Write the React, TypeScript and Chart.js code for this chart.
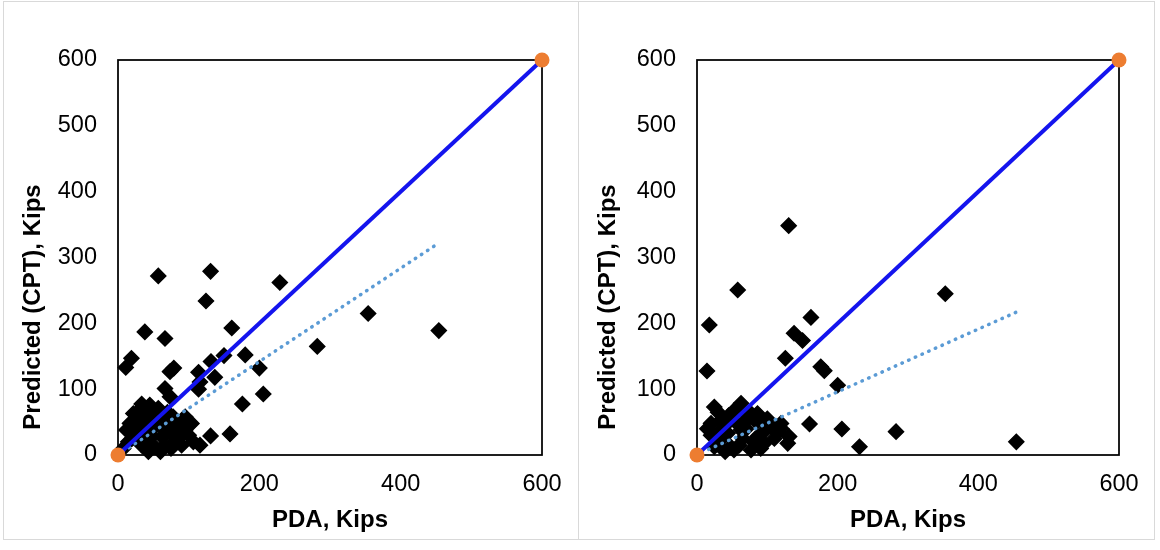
import React, { useEffect, useRef } from "react";
import { Chart, registerables } from "chart.js";

Chart.register(...registerables);

// ---------- Data ----------
const xTicks = [0, 200, 400, 600];
const yTicks = [0, 100, 200, 300, 400, 500, 600];
const xAxisTitle = "PDA, Kips";
const yAxisTitle = "Predicted (CPT), Kips";

// Left panel
const leftPDA = [
  57, 131, 229, 124.5, 161, 38, 66.5, 354, 454, 282, 19, 11, 150, 180, 131.6, 79, 73.6, 114, 137, 200,
  116, 114, 66.5, 73.6, 205.6, 176, 33.5, 158.5, 131, 106.6, 116,
  21.7, 17, 12, 45, 57, 95, 104, 78, 92, 52, 43, 33.5, 66.5, 80.6, 24, 14.6, 7.5, 38, 52, 66.5, 80.6,
  47.6, 62, 28.8, 43, 88,
  30, 35, 40, 55, 60, 70, 75, 85, 90, 100, 100, 70, 50, 25, 20, 60, 75, 95, 45, 30,
];
const leftCPT = [
  272, 279, 262, 234, 193, 187, 177, 215, 189, 165, 147, 133, 151, 152, 142, 132, 126.6, 125.6, 118, 132,
  111, 100, 101, 88.6, 92.7, 77.5, 77.5, 32, 29, 20, 15,
  63, 48, 38, 76, 71, 58, 48, 58, 33, 12.6, 5, 15, 15, 17.7, 33, 20, 10, 48, 43, 38, 43,
  28, 28, 58, 63, 46,
  40, 30, 20, 50, 60, 50, 30, 25, 15, 30, 45, 65, 55, 50, 25, 5, 10, 38, 40, 68,
];
const leftTrendX = [7, 454];
const leftTrendY = [5, 322];

// Right panel
const rightPDA = [
  130.4, 57.9, 353, 17.5, 162, 138, 150, 125.6, 14.2, 176, 181, 200, 160, 206, 231, 283, 454,
  24.6, 62.6, 53, 20, 34, 91, 105, 119.4, 131, 129, 114.7, 76.8, 48, 24.6, 72, 86, 43.6, 62.6, 34,
  95.7, 86, 90.6, 52.6, 14.7, 66,
  30, 40, 45, 55, 65, 70, 80, 95, 100, 110, 75, 60, 40, 85, 30, 100, 120, 20,
];
const rightCPT = [
  348.4, 250.6, 245, 197.5, 209, 185, 174, 147, 127.6, 134, 128, 106, 47, 39.5, 12.6, 35.5, 20,
  73, 78.5, 68, 48, 53, 53, 43, 48, 28, 17.7, 35, 7.6, 12.6, 12.6, 58, 28, 33, 38, 23,
  17.7, 63, 10, 7.6, 40, 48,
  35, 45, 60, 50, 25, 40, 20, 35, 45, 25, 65, 15, 5, 50, 65, 55, 40, 30,
];
const rightTrendX = [7, 454];
const rightTrendY = [4, 217];

// 1:1 reference line and its end markers
const refX = [0, 600];
const refY = [0, 600];

// ---------- Helpers ----------
const toPts = (xs: number[], ys: number[]) => xs.map((x, i) => ({ x, y: ys[i] }));

const FONT = "'Liberation Sans', Arial, Helvetica, sans-serif";

const framePlugin = {
  id: "frame",
  beforeDatasetsDraw(chart: any) {
    const { ctx, chartArea } = chart;
    ctx.save();
    ctx.strokeStyle = "#000";
    ctx.lineWidth = 1.75;
    ctx.strokeRect(chartArea.left, chartArea.top, chartArea.right - chartArea.left, chartArea.bottom - chartArea.top);
    ctx.restore();
  },
};

// Vertical axis title, placed where the reference puts it (below the axis centre)
const yTitlePlugin = {
  id: "yTitle",
  afterDraw(chart: any) {
    const { ctx } = chart;
    ctx.save();
    ctx.translate(29, 305);
    ctx.rotate(-Math.PI / 2);
    ctx.font = `bold 24px ${FONT}`;
    ctx.fillStyle = "#000";
    ctx.textAlign = "center";
    ctx.textBaseline = "middle";
    ctx.fillText(yAxisTitle, 0, 0);
    ctx.restore();
  },
};

type PanelProps = {
  left: number;
  width: number;
  yAxisWidth: number;
  plotWidth: number;
  pda: number[];
  cpt: number[];
  trendX: number[];
  trendY: number[];
};

const CANVAS_TOP = 2;
const CANVAS_H = 536;

function Panel({ left, width, yAxisWidth, plotWidth, pda, cpt, trendX, trendY }: PanelProps) {
  const ref = useRef<HTMLCanvasElement | null>(null);
  useEffect(() => {
    if (!ref.current) return;
    const chart = new Chart(ref.current, {
      type: "scatter",
      data: {
        datasets: [
          {
            label: "ends",
            data: toPts(refX, refY),
            pointRadius: 7.5,
            pointBackgroundColor: "#ED7D31",
            pointBorderColor: "#ED7D31",
            pointBorderWidth: 0,
            showLine: false,
            clip: false,
          } as any,
          {
            label: "1:1",
            data: toPts(refX, refY),
            showLine: true,
            borderColor: "#1414EE",
            borderWidth: 4,
            pointRadius: 0,
            clip: false,
          } as any,
          {
            label: "trend",
            data: toPts(trendX, trendY),
            showLine: true,
            borderColor: "#5B9BD5",
            borderWidth: 3.5,
            borderDash: [0.5, 6.8],
            borderCapStyle: "round",
            pointRadius: 0,
            clip: false,
          } as any,
          {
            label: "data",
            data: toPts(pda, cpt),
            pointStyle: "rectRot",
            pointRadius: 7.5,
            pointBackgroundColor: "#000",
            pointBorderColor: "#000",
            pointBorderWidth: 1.5,
            showLine: false,
            clip: false,
          } as any,
        ],
      },
      options: {
        animation: false,
        responsive: false,
        maintainAspectRatio: false,
        devicePixelRatio: 1,
        layout: { padding: { top: 58, right: width - (yAxisWidth + plotWidth), left: 0, bottom: 0 } },
        plugins: { legend: { display: false }, tooltip: { enabled: false } },
        scales: {
          x: {
            type: "linear",
            min: 0,
            max: 600,
            grid: { display: false, drawTicks: false },
            border: { display: false },
            afterBuildTicks: (s: any) => {
              s.ticks = xTicks.map((v) => ({ value: v }));
            },
            afterFit: (s: any) => {
              s.height = CANVAS_H - 453;
            },
            ticks: { color: "#000", font: { family: FONT, size: 23.5 }, padding: 15, maxRotation: 0 },
            title: {
              display: true,
              text: xAxisTitle,
              color: "#000",
              font: { family: FONT, size: 24, weight: "bold" },
              padding: { top: 0, bottom: 3 },
            },
          },
          y: {
            type: "linear",
            min: 0,
            max: 600,
            grid: { display: false, drawTicks: false },
            border: { display: false },
            afterBuildTicks: (s: any) => {
              s.ticks = yTicks.map((v) => ({ value: v }));
            },
            afterFit: (s: any) => {
              s.width = yAxisWidth;
            },
            ticks: { color: "#000", font: { family: FONT, size: 23.5 }, padding: 21 },
            title: { display: false },
          },
        },
      },
      plugins: [framePlugin, yTitlePlugin],
    } as any);
    return () => chart.destroy();
  }, []);
  return (
    <canvas
      ref={ref}
      width={width}
      height={CANVAS_H}
      style={{ position: "absolute", left, top: CANVAS_TOP, width, height: CANVAS_H }}
    />
  );
}

export default function App() {
  useEffect(() => {
    document.body.style.margin = "0";
  }, []);
  return (
    <div style={{ position: "fixed", left: 0, top: 0, width: 1160, height: 550, background: "#fff", overflow: "hidden" }}>
      <div
        style={{
          position: "absolute",
          left: 3,
          top: 1,
          width: 1152,
          height: 539,
          border: "1px solid #d9d9d9",
          boxSizing: "border-box",
        }}
      />
      <div style={{ position: "absolute", left: 578, top: 1, width: 1, height: 539, background: "#d9d9d9" }} />
      <Panel left={4} width={574} yAxisWidth={114} plotWidth={424} pda={leftPDA} cpt={leftCPT} trendX={leftTrendX} trendY={leftTrendY} />
      <Panel left={579} width={575} yAxisWidth={118} plotWidth={422} pda={rightPDA} cpt={rightCPT} trendX={rightTrendX} trendY={rightTrendY} />
    </div>
  );
}
